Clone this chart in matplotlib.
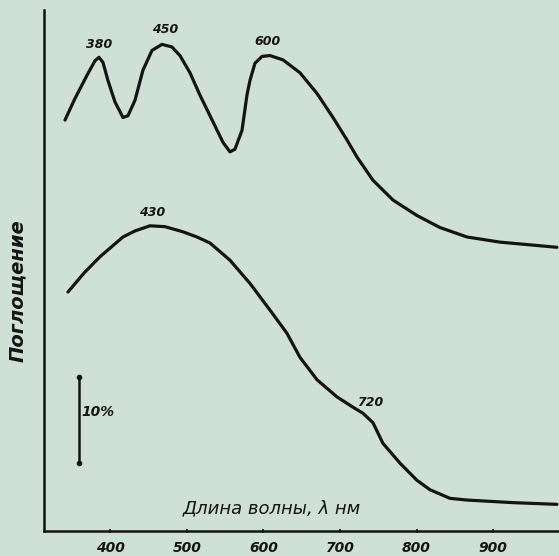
import matplotlib
matplotlib.use("Agg")
import matplotlib.pyplot as plt

# Upper spectrum (wavelength nm, absorption %)
upper_nm = [341.0, 354.0, 369.7, 380.2, 385.4, 390.6, 397.1, 406.3, 416.7, 423.2, 432.4,
            442.8, 454.6, 467.6, 480.7, 491.1, 504.2, 517.2, 534.2, 547.3, 556.4, 562.9,
            572.1, 578.6, 582.5, 589.0, 598.2, 608.6, 625.6, 647.8, 670.0, 690.9, 709.1,
            722.2, 743.1, 769.2, 800.5, 830.5, 865.8, 908.9, 983.3]
upper_val = [47.8, 50.3, 53.0, 54.7, 55.1, 54.5, 52.4, 49.9, 48.1, 48.3, 50.1,
             53.6, 55.9, 56.6, 56.3, 55.3, 53.3, 50.7, 47.6, 45.2, 44.1, 44.4,
             46.6, 50.7, 52.4, 54.4, 55.2, 55.3, 54.8, 53.3, 50.9, 48.1, 45.5,
             43.5, 40.8, 38.5, 36.7, 35.3, 34.2, 33.6, 33.0]

# Lower spectrum
lower_nm = [344.9, 365.8, 386.7, 402.4, 416.7, 432.4, 452.0, 471.5, 495.0, 513.3,
            530.3, 556.4, 582.5, 608.6, 630.8, 647.8, 670.0, 696.1, 717.0, 730.0,
            743.1, 756.1, 778.3, 800.5, 817.5, 843.6, 865.8, 925.8, 983.3]
lower_val = [27.8, 30.0, 31.9, 33.1, 34.2, 34.9, 35.5, 35.4, 34.8, 34.2,
             33.5, 31.5, 28.8, 25.7, 23.0, 20.2, 17.6, 15.6, 14.4, 13.7,
             12.6, 10.2, 7.9, 5.9, 4.8, 3.8, 3.6, 3.3, 3.1]

xticks = [400, 500, 600, 700, 800, 900]
xtick_labels = ["400", "500", "600", "700", "800", "900"]

# Peak annotations: (label, nm, value)
peak_labels = ["380", "450", "600", "430", "720"]
peak_nm = [385.0, 471.5, 606.0, 454.6, 739.0]
peak_val = [56.6, 58.3, 56.9, 37.0, 15.0]

scale_nm = 359.3
scale_lo, scale_hi = 7.9, 17.9

bg = "#cfe0d6"
ink = "#141414"

fig = plt.figure(figsize=(5.59, 5.56), dpi=100, facecolor=bg)
ax = fig.add_axes([44/559, 25/556, 515/559, 521/556])
ax.set_facecolor(bg)
ax.set_xlim(313.6, 986.0)
ax.set_ylim(0, 60.6)

for s in ["top", "right"]:
    ax.spines[s].set_visible(False)
for s in ["left", "bottom"]:
    ax.spines[s].set_color(ink)
    ax.spines[s].set_linewidth(1.8)

ax.set_yticks([])
ax.set_xticks(xticks)
ax.set_xticklabels(xtick_labels, fontsize=10, fontstyle="italic", fontweight="bold", color=ink)
ax.tick_params(axis="x", length=3, width=1.2, direction="inout", pad=6, colors=ink)

ax.plot(upper_nm, upper_val, color=ink, lw=2.3, solid_capstyle="round", solid_joinstyle="round")
ax.plot(lower_nm, lower_val, color=ink, lw=2.3, solid_capstyle="round", solid_joinstyle="round")

for lab, x, y in zip(peak_labels, peak_nm, peak_val):
    ax.text(x, y, lab, ha="center", va="center", fontsize=9, fontstyle="italic",
            fontweight="bold", color=ink)

# 10% scale bar
ax.plot([scale_nm, scale_nm], [scale_lo, scale_hi], color=ink, lw=1.8,
        marker="o", markersize=3)
ax.text(384.1, 13.8, "10%", ha="center", va="center",
        fontsize=10, fontstyle="italic", fontweight="bold", color=ink)

ax.text(611, 2.6, "Длина волны, λ нм", ha="center", va="center", fontsize=13,
        fontstyle="italic", color=ink)
ax.text(279.6, 28.0, "Поглощение", ha="center", va="center", fontsize=14, rotation=90,
        fontstyle="italic", fontweight="bold", color=ink, clip_on=False)

fig.savefig("out.png", dpi=100, facecolor=bg)
